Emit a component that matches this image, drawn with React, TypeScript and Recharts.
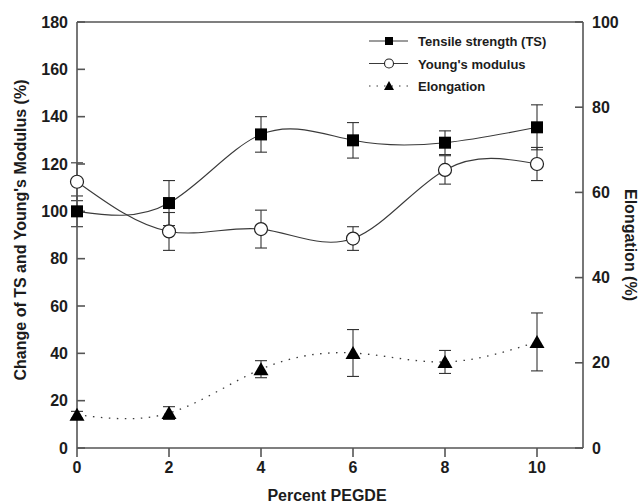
import { LineChart, Line, XAxis, YAxis, ErrorBar, ReferenceLine, Label } from "recharts";

const pegde = [0, 2, 4, 6, 8, 10];
const tensile = [100, 103.5, 132.5, 130, 129, 135.5];
const tensileErr = [6.5, 9.5, 7.5, 7.5, 5, 9.5];
const youngs = [112.5, 91.5, 92.5, 88.5, 117.5, 120];
const youngsErr = [8, 8, 8, 5, 6, 7];
const elongation = [7.8, 8.2, 18.5, 22.3, 20.2, 24.9];
const elongationErr = [0.8, 1.5, 2, 5.5, 2.7, 6.8];

const xTicks = [0, 2, 4, 6, 8, 10];
const leftTicks = [0, 20, 40, 60, 80, 100, 120, 140, 160, 180];
const rightTicks = [0, 20, 40, 60, 80, 100];

const legendItems = [
  { name: "Tensile strength (TS)", shape: "square", dashed: false },
  { name: "Young's modulus", shape: "circle", dashed: false },
  { name: "Elongation", shape: "triangle", dashed: true },
];

const rows = pegde.map((x, i) => ({
  x,
  ts: tensile[i],
  tsErr: tensileErr[i],
  ym: youngs[i],
  ymErr: youngsErr[i],
  el: elongation[i],
  elErr: elongationErr[i],
}));

const FONT = "'Liberation Sans', Arial, sans-serif";
const INK = "#1c1c1c";
const LINE = "#3a3a3a";
const AXIS = "#555";

function Marker({ cx, cy, shape }: { cx: number; cy: number; shape: string }) {
  if (cx == null || cy == null) return null;
  if (shape === "square") {
    return <rect x={cx - 6} y={cy - 6} width={12} height={12} fill="#000" />;
  }
  if (shape === "circle") {
    return <circle cx={cx} cy={cy} r={6.5} fill="#fff" stroke="#222" strokeWidth={1.2} />;
  }
  return <path d={`M${cx},${cy - 7} L${cx + 7.5},${cy + 6} L${cx - 7.5},${cy + 6} Z`} fill="#000" />;
}

// legend sits over the plot, top right
function LegendBox() {
  return (
    <svg width={220} height={70} style={{ position: "absolute", top: 30, left: 365 }}>
      {legendItems.map((it, i) => {
        const y = 11 + i * 22.5;
        return (
          <g key={it.name}>
            <line
              x1={4}
              x2={43}
              y1={y}
              y2={y}
              stroke={LINE}
              strokeWidth={1.2}
              strokeDasharray={it.dashed ? "1.5 6" : undefined}
            />
            {it.shape === "square" && <rect x={20} y={y - 4} width={8} height={8} fill="#000" />}
            {it.shape === "circle" && <circle cx={24} cy={y} r={4.5} fill="#fff" stroke="#222" strokeWidth={1.1} />}
            {it.shape === "triangle" && <path d={`M24,${y - 5} L29,${y + 4} L19,${y + 4} Z`} fill="#000" />}
            <text x={53} y={y + 5} fontSize={13} fontWeight="bold" fontFamily={FONT} fill={INK}>
              {it.name}
            </text>
          </g>
        );
      })}
    </svg>
  );
}

const tickStyle = { fontSize: 16, fontWeight: "bold", fill: INK, fontFamily: FONT };

export default function App() {
  return (
    <div style={{ position: "relative", width: 640, height: 504, background: "#fff" }}>
      <style>{`body{margin:0}`}</style>
      <LineChart width={640} height={504} data={rows} margin={{ top: 22, right: 0, bottom: 0, left: 0 }}>
        <XAxis
          dataKey="x"
          type="number"
          domain={[0, 11]}
          ticks={xTicks}
          height={56}
          tick={tickStyle}
          tickSize={9}
          tickMargin={5}
          stroke={AXIS}
          strokeWidth={1.6}
        >
          <Label
            content={({ viewBox }: any) => (
              <text
                x={viewBox.x + viewBox.width / 2 - 3}
                y={viewBox.y + 53}
                textAnchor="middle"
                fontSize={16}
                fontWeight="bold"
                fontFamily={FONT}
                fill={INK}
              >
                Percent PEGDE
              </text>
            )}
          />
        </XAxis>
        <YAxis
          yAxisId="left"
          domain={[0, 180]}
          ticks={leftTicks}
          width={77}
          tick={tickStyle}
          tickSize={-8}
          tickMargin={17}
          stroke={AXIS}
          strokeWidth={1.6}
          allowDataOverflow
        >
          <Label
            content={({ viewBox }: any) => {
              const cx = 20;
              const cy = viewBox.y + viewBox.height / 2 - 5;
              return (
                <text
                  x={cx}
                  y={cy}
                  transform={`rotate(-90 ${cx} ${cy})`}
                  textAnchor="middle"
                  dominantBaseline="central"
                  fontSize={16}
                  fontWeight="bold"
                  fontFamily={FONT}
                  fill={INK}
                >
                  Change of TS and Young's Modulus (%)
                </text>
              );
            }}
          />
        </YAxis>
        <YAxis
          yAxisId="right"
          orientation="right"
          domain={[0, 100]}
          ticks={rightTicks}
          width={57}
          tick={{ ...tickStyle, textAnchor: "start" }}
          tickSize={-8}
          tickMargin={17}
          stroke={AXIS}
          strokeWidth={1.6}
        >
          <Label
            content={({ viewBox }: any) => {
              const cx = 630;
              const cy = viewBox.y + viewBox.height / 2 + 10;
              return (
                <text
                  x={cx}
                  y={cy}
                  transform={`rotate(90 ${cx} ${cy})`}
                  textAnchor="middle"
                  dominantBaseline="central"
                  fontSize={16}
                  fontWeight="bold"
                  fontFamily={FONT}
                  fill={INK}
                >
                  Elongation (%)
                </text>
              );
            }}
          />
        </YAxis>
        <ReferenceLine yAxisId="left" y={180} stroke={AXIS} strokeWidth={1.6} />
        <Line
          yAxisId="left"
          type="natural"
          dataKey="ts"
          name="Tensile strength (TS)"
          stroke={LINE}
          strokeWidth={1.1}
          dot={(p: any) => <Marker key={`ts-${p.index}`} cx={p.cx} cy={p.cy} shape="square" />}
          activeDot={false}
          isAnimationActive={false}
        >
          <ErrorBar dataKey="tsErr" width={6} stroke="#333" strokeWidth={1.1} direction="y" />
        </Line>
        <Line
          yAxisId="left"
          type="natural"
          dataKey="ym"
          name="Young's modulus"
          stroke={LINE}
          strokeWidth={1.1}
          dot={(p: any) => <Marker key={`ym-${p.index}`} cx={p.cx} cy={p.cy} shape="circle" />}
          activeDot={false}
          isAnimationActive={false}
        >
          <ErrorBar dataKey="ymErr" width={6} stroke="#333" strokeWidth={1.1} direction="y" />
        </Line>
        <Line
          yAxisId="right"
          type="natural"
          dataKey="el"
          name="Elongation"
          stroke={LINE}
          strokeWidth={1.3}
          strokeDasharray="1.5 6.5"
          dot={(p: any) => <Marker key={`el-${p.index}`} cx={p.cx} cy={p.cy} shape="triangle" />}
          activeDot={false}
          isAnimationActive={false}
        >
          <ErrorBar dataKey="elErr" width={6} stroke="#333" strokeWidth={1.1} direction="y" />
        </Line>
      </LineChart>
      <LegendBox />
    </div>
  );
}
